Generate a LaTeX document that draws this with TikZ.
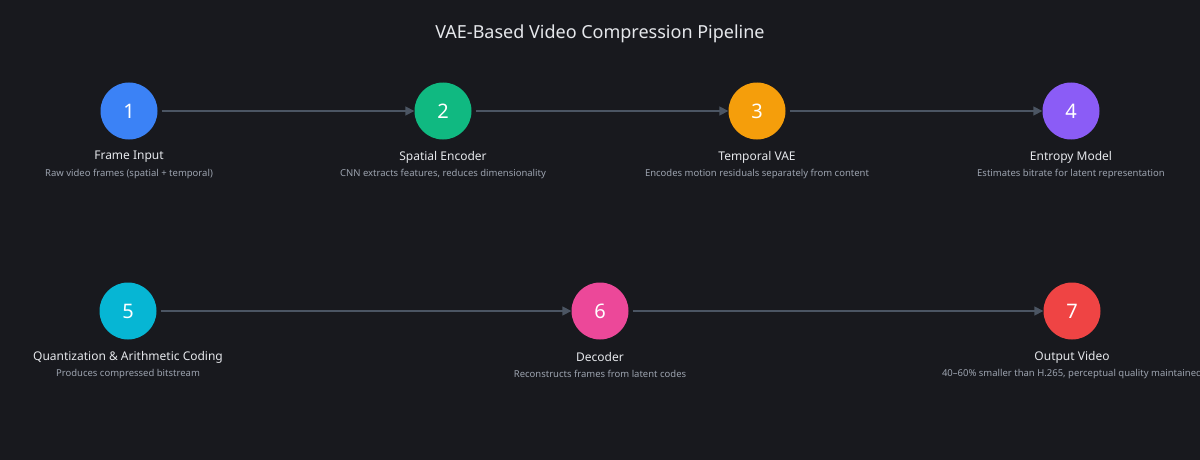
\documentclass[tikz,border=0pt]{standalone}
\usepackage{fontspec}
\setmainfont{Noto Sans}
\usetikzlibrary{arrows.meta}
\definecolor{bg}{HTML}{18191E}
\definecolor{c1}{HTML}{3B82F6}
\definecolor{c2}{HTML}{10B981}
\definecolor{c3}{HTML}{F59E0B}
\definecolor{c4}{HTML}{8B5CF6}
\definecolor{c5}{HTML}{06B6D4}
\definecolor{c6}{HTML}{EC4899}
\definecolor{c7}{HTML}{EF4444}
\definecolor{lab}{HTML}{E5E7EB}
\definecolor{sub}{HTML}{9CA3AF}
\definecolor{arr}{HTML}{4B5563}
\begin{document}
\begin{tikzpicture}[x=1pt,y=-1pt,
  stepc/.style={circle,minimum size=57pt,inner sep=0pt,text=white,font=\fontsize{20}{24}\selectfont},
  labc/.style={text=lab,font=\fontsize{12}{14}\selectfont,inner sep=0pt},
  subc/.style={text=sub,font=\fontsize{9.5}{11}\selectfont,inner sep=0pt},
  conn/.style={draw=arr,line width=1.6pt,-{Triangle[length=9pt,width=9pt]},shorten <=4pt}]
\useasboundingbox (0,0) rectangle (1200,460);
\clip (0,0) rectangle (1200,460);
\fill[bg] (0,0) rectangle (1200,460);
\node[text=lab,font=\fontsize{18}{22}\selectfont] (title) at (600,34) {VAE-Based Video Compression Pipeline};
\foreach \n/\x/\y/\c/\a/\b in {
 1/129/111/c1/Frame Input/Raw video frames (spatial + temporal),
 2/443/111/c2/Spatial Encoder/{CNN extracts features, reduces dimensionality},
 3/757/111/c3/Temporal VAE/Encodes motion residuals separately from content,
 4/1071/111/c4/Entropy Model/Estimates bitrate for latent representation,
 5/128/311/c5/Quantization \& Arithmetic Coding/Produces compressed bitstream,
 6/600/311/c6/Decoder/Reconstructs frames from latent codes,
 7/1072/311/c7/Output Video/{40–60\% smaller than H.265, perceptual quality maintained}}{
 \node[stepc,fill=\c] (n\n) at (\x,\y) {\n};
 \node[labc] (l\n) at (\x,\y+46) {\a};
 \node[subc] (s\n) at (\x,\y+63) {\b};
}
\draw[conn] (n1) -- (n2);
\draw[conn] (n2) -- (n3);
\draw[conn] (n3) -- (n4);
\draw[conn] (n5) -- (n6);
\draw[conn] (n6) -- (n7);
\end{tikzpicture}
\end{document}
